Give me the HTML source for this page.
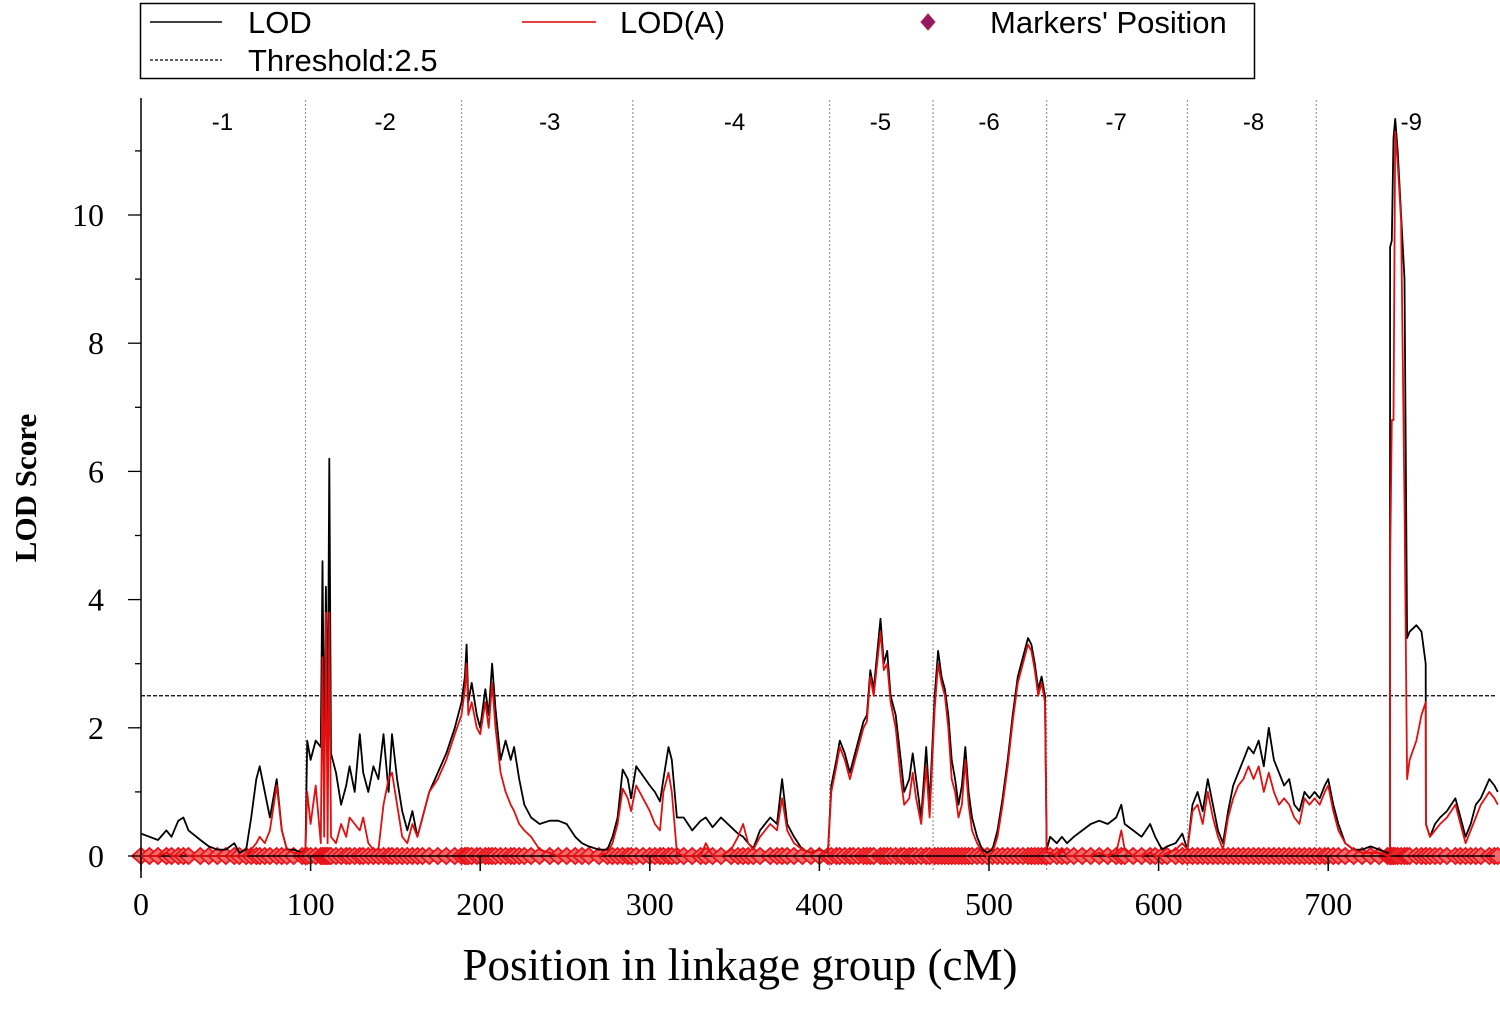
<!DOCTYPE html>
<html><head><meta charset="utf-8"><style>
html,body{margin:0;padding:0;background:#fff;}
svg{display:block;}
.sans{font-family:"Liberation Sans",Arial,sans-serif;}
.serif{font-family:"Liberation Serif","Times New Roman",serif;}
</style></head><body>
<svg id="chart" width="1500" height="1010" viewBox="0 0 1500 1010" xmlns="http://www.w3.org/2000/svg">
<g>
<rect x="140.5" y="3.5" width="1114" height="75" fill="#fff" stroke="#000" stroke-width="1.5"/>
<line x1="150" y1="22" x2="222" y2="22" stroke="#000" stroke-width="1.5"/>
<text class="sans" x="248" y="33" font-size="31">LOD</text>
<line x1="522" y1="22" x2="596" y2="22" stroke="#d00" stroke-width="1.5"/>
<text class="sans" x="620" y="33" font-size="31">LOD(A)</text>
<path d="M928 14 L935 22 L928 30 L921 22 Z" fill="#8b1a6a" stroke="#c02030"/>
<text class="sans" x="990" y="33" font-size="31">Markers' Position</text>
<line x1="150" y1="60" x2="222" y2="60" stroke="#000" stroke-width="1.3" stroke-dasharray="3,2"/>
<text class="sans" x="248" y="71" font-size="31">Threshold:2.5</text>
</g>
<g id="plot"></g>
<text class="serif" font-weight="bold" font-size="31" transform="translate(36,488) rotate(-90)" text-anchor="middle">LOD Score</text>
<text class="serif" font-size="45" x="740" y="980" text-anchor="middle">Position in linkage group (cM)</text>
</svg>
<script>
const pos=[0,5,10,15,18,22,25,28,35,40,45,50,55,58,62,65,68,70,73,76,80,83,86,90,95,97,98,100,103,106,107,108,109,110,111,112,115,118,121,123,126,129,131,134,137,140,143,146,148,151,154,157,160,163,166,170,175,180,185,189,191,192,193,195,198,200,203,205,207,209,212,215,218,220,223,226,230,235,241,246,251,256,260,264,270,275,278,281,284,287,289,292,296,300,303,306,308,311,313,316,320,325,330,333,337,342,348,352,355,358,361,365,371,375,378,381,385,390,395,400,405,407,410,412,415,418,420,423,426,428,430,432,436,438,440,442,445,448,450,453,455,457,460,463,465,468,470,472,474,476,478,480,482,484,486,488,490,493,496,499,502,505,508,511,514,517,520,523,525,527,529,531,533,534,536,540,543,546,550,555,560,565,570,575,578,580,585,590,595,598,602,605,610,614,617,620,623,626,629,632,635,638,641,644,647,650,653,656,659,662,665,668,671,674,677,680,683,686,689,692,695,698,700,703,706,710,715,720,725,730,735,736.4,736.5,737.5,738.5,739.5,741,743,745,746.5,748,752,755,757.5,757.6,760,763,766,770,775,778,781,784,787,790,795,798,800];
const lod=[.35,.3,.25,.4,.3,.55,.6,.4,.25,.15,.1,.1,.2,.05,.1,.6,1.2,1.4,1.0,.6,1.2,.4,.1,.1,.05,.1,1.8,1.5,1.8,1.7,4.6,1.5,4.2,1.6,6.2,1.6,1.3,.8,1.1,1.4,1.0,1.9,1.3,1.0,1.4,1.2,1.9,1.0,1.9,1.2,.7,.4,.7,.3,.6,1.0,1.3,1.6,2.0,2.4,2.8,3.3,2.4,2.7,2.2,2.0,2.6,2.2,3.0,2.3,1.5,1.8,1.5,1.7,1.2,.8,.6,.5,.55,.55,.5,.3,.2,.15,.1,.1,.3,.6,1.35,1.2,.9,1.4,1.25,1.1,1.0,.85,1.2,1.7,1.5,.6,.6,.4,.55,.6,.45,.6,.45,.35,.3,.2,.12,.4,.6,.5,1.2,.5,.3,.1,.05,.1,.05,1.1,1.5,1.8,1.6,1.3,1.5,1.8,2.1,2.2,2.9,2.6,3.7,3.0,3.2,2.5,2.2,1.5,1.0,1.2,1.6,1.2,.6,1.7,.8,2.5,3.2,2.8,2.6,2.2,1.5,1.2,.8,1.1,1.7,1.0,.6,.3,.1,.05,.1,.4,.9,1.5,2.2,2.8,3.1,3.4,3.3,3.0,2.6,2.8,2.5,.1,.3,.2,.3,.2,.3,.4,.5,.55,.5,.6,.8,.5,.4,.3,.5,.3,.1,.15,.2,.35,.1,.8,1.0,.7,1.2,.8,.4,.2,.7,1.1,1.3,1.5,1.7,1.6,1.8,1.4,2.0,1.5,1.3,1.1,1.2,.8,.7,1.0,.9,1.0,.9,1.1,1.2,.8,.5,.2,.1,.1,.15,.1,.05,.05,9.5,9.6,11.2,11.5,11.0,10.0,9.0,3.4,3.5,3.6,3.5,3.0,.5,.3,.5,.6,.7,.9,.6,.3,.5,.8,.9,1.2,1.1,1.0];
const lodA=[0,0,0,.05,0,0,.05,0,0,0,0,0,0,0,0,.1,.2,.3,.2,.4,1.1,.4,.1,.05,.05,.1,1.0,.5,1.1,.2,3.1,.3,3.8,.2,3.8,.3,.2,.5,.3,.6,.5,.4,.6,.2,.1,.1,.8,1.2,1.3,.8,.3,.2,.5,.3,.6,1.0,1.2,1.5,1.9,2.2,2.6,3.0,2.2,2.4,2.0,1.9,2.4,2.0,2.7,2.0,1.3,1.0,.8,.7,.5,.4,.3,.1,.05,0,0,0,0,0,0,.05,.2,.5,1.05,.9,.7,1.1,.9,.7,.5,.4,1.0,1.3,1.0,.05,0,0,0,.2,0,0,.1,.3,.5,.2,.1,.3,.5,.4,.9,.4,.2,.1,.05,.1,.05,1.0,1.4,1.7,1.5,1.2,1.4,1.7,2.0,2.1,2.8,2.5,3.5,2.9,3.0,2.4,2.0,1.2,.8,.9,1.3,.9,.5,1.4,.6,2.3,3.0,2.7,2.5,2.0,1.2,1.0,.6,.8,1.5,.8,.4,.2,.05,0,.05,.3,.8,1.4,2.1,2.7,3.0,3.3,3.2,2.9,2.5,2.7,2.4,.05,.05,0,.1,0,0,0,0,.05,0,.05,.4,.1,0,0,.05,0,0,.05,.1,.2,.1,.7,.8,.5,1.0,.6,.3,.1,.6,.9,1.1,1.2,1.4,1.2,1.4,1.0,1.3,1.0,.8,.9,.8,.6,.5,.9,.8,.9,.8,1.0,1.1,.7,.4,.2,.1,.05,.05,.05,0,0,4.5,6.8,6.8,11.3,10.8,9.9,5.5,1.2,1.5,1.8,2.2,2.4,.5,.3,.4,.5,.6,.8,.5,.2,.4,.6,.8,1.0,.9,.8];
const groupBounds=[97,189,290,406,467,534,617,693];
const groupLabels=["-1","-2","-3","-4","-5","-6","-7","-8","-9"];
const groupLabelPos=[48,144,241,350,436,500,575,656,749];
const xTicks=[0,100,200,300,400,500,600,700];
const yTicks=[0,2,4,6,8,10];
const threshold=2.5;

const NS="http://www.w3.org/2000/svg";
const X0=141,XS=1.696,Y0=856,YS=64.1,XR=1495;
const sx=v=>X0+v*XS, sy=v=>Y0-v*YS;
const g=document.getElementById('plot');
function mk(t,a){const e=document.createElementNS(NS,t);for(const k in a)e.setAttribute(k,a[k]);g.appendChild(e);return e;}

groupBounds.forEach((b,i)=>{
 const l=mk('line',{x1:sx(b),x2:sx(b),y1:100,y2:Y0+16,stroke:'#999','stroke-width':1.2,'stroke-dasharray':'2,2'});
 
 
});
groupLabels.forEach((t,i)=>{
 const e=mk('text',{x:sx(groupLabelPos[i]),y:130,'font-size':24,'text-anchor':'middle',class:'sans'});
 e.textContent=t;
 
 
});
// markers
pos.forEach(p=>{
 const x=sx(p);
 const d=mk('path',{d:`M${x} ${Y0-8} L${x+9} ${Y0} L${x} ${Y0+8} L${x-9} ${Y0} Z`,fill:'#f46a6a',stroke:'#e8141c','stroke-width':1.8});
 
 
});
// axes
const ax=mk('line',{x1:X0,x2:XR,y1:Y0,y2:Y0,stroke:'#000','stroke-width':1.5});


const ay=mk('line',{x1:X0,x2:X0,y1:98,y2:Y0+22,stroke:'#000','stroke-width':1.5});


xTicks.forEach(v=>{
 const t=mk('line',{x1:sx(v),x2:sx(v),y1:Y0,y2:Y0+15,stroke:'#000','stroke-width':1.5});
 
 
 const e=mk('text',{x:sx(v),y:915,'font-size':32,'text-anchor':'middle',class:'serif'});
 e.textContent=v;
 
 
});
for(let v=0;v<=11;v++){
 const t=mk('line',{x1:X0-(v%2?6:13),x2:X0,y1:sy(v),y2:sy(v),stroke:'#000','stroke-width':1.3});
 
 
}
yTicks.forEach(v=>{
 const e=mk('text',{x:104,y:sy(v)+11,'font-size':32,'text-anchor':'end',class:'serif'});
 e.textContent=v;
 
 
});
const th=mk('line',{x1:X0,x2:XR,y1:sy(threshold),y2:sy(threshold),stroke:'#000','stroke-width':1.3,'stroke-dasharray':'4,2'});


function series(vals,color,name){
 const d=vals.map((v,i)=>(i?'L':'M')+sx(pos[i]).toFixed(1)+' '+sy(v).toFixed(1)).join(' ');
 const p=mk('path',{d:d,fill:'none',stroke:color,'stroke-width':1.8,'stroke-linejoin':'round'});
 
 
}
series(lod,'#000','lod-line');
series(lodA,'#e01010','lod-a-line');
</script>
</body></html>
